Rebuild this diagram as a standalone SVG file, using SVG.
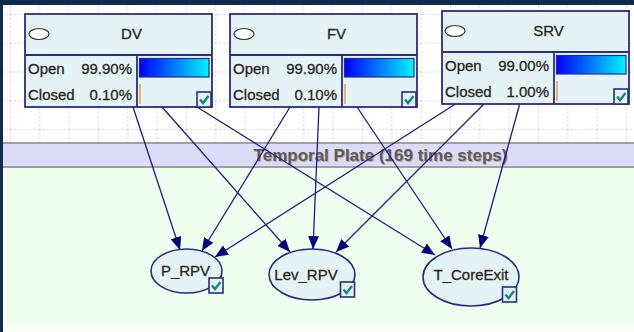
<svg xmlns="http://www.w3.org/2000/svg" width="634" height="332" viewBox="0 0 634 332">
  <defs>
    <linearGradient id="prob" x1="0" y1="0" x2="1" y2="0">
      <stop offset="0" stop-color="#0000ff"/>
      <stop offset="1" stop-color="#00f4ff"/>
    </linearGradient>
    <pattern id="grid" x="10" y="14" width="29.333" height="28.75" patternUnits="userSpaceOnUse">
      <path d="M0,0.5 H29.333 M0.5,0 V28.75" stroke="#d8d8d8" stroke-width="1" stroke-dasharray="2,2" fill="none"/>
    </pattern>
    <marker id="arrow" viewBox="0 0 13 11" markerWidth="13" markerHeight="11" refX="13" refY="5.5" orient="auto" markerUnits="userSpaceOnUse">
      <path d="M0,0 L13,5.5 L0,11 z" fill="#000080"/>
    </marker>
    <g id="check">
      <rect x="0" y="0" width="14" height="15" fill="#e4f4f6" stroke="#2a2a8a" stroke-width="1.6"/>
      <path d="M3,7.5 L6,11 L11.5,4" fill="none" stroke="#13877a" stroke-width="2.4"/>
    </g>
  </defs>
  <style>
    .txt { font-family: "Liberation Sans", Arial, sans-serif; font-size: 15px; fill: #222; stroke: #3a2a1a; stroke-width: 0.3; }
    .mid { text-anchor: middle; }
    .end { text-anchor: end; }
    .box { fill: #e4f4f6; stroke: #2a2a8a; stroke-width: 1.8; }
    .div { stroke: #2a2a8a; stroke-width: 1.8; }
    .icon { fill: #ffffff; stroke: #333; stroke-width: 1.2; }
    .bar { fill: url(#prob); stroke: #2a2a8a; stroke-width: 1.2; }
    .tick { stroke: #f0a040; stroke-width: 1.6; }
    .node { fill: #e4f4f6; stroke: #2a2a8a; stroke-width: 1.6; }
    .edge { fill: none; stroke: #1c1c8a; stroke-width: 1.3; marker-end: url(#arrow); }
    .plate { font-family: "Liberation Sans", Arial, sans-serif; font-size: 17px; font-weight: bold; text-anchor: middle; }
  </style>

  <!-- canvas: frame, grid area, temporal plate -->
  <rect x="0" y="0" width="634" height="332" fill="#f0fef0"/>
  <rect x="0" y="5" width="634" height="138" fill="#ffffff"/>
  <rect x="0" y="5" width="634" height="137" fill="url(#grid)"/>
  <rect x="0" y="143" width="634" height="24" fill="#dcdcfa"/>
  <line x1="0" y1="143" x2="634" y2="143" stroke="#a0a0a0" stroke-width="2"/>
  <line x1="0" y1="167" x2="634" y2="167" stroke="#a0a0a0" stroke-width="2"/>
  <rect x="0" y="326" width="634" height="6" fill="#fafdfa"/>
  <rect x="0" y="0" width="634" height="5" fill="#0f2b50"/>
  <rect x="0" y="0" width="3" height="332" fill="#0f2b50"/>
  <text class="plate" x="381.5" y="162" fill="#b89070" opacity="0.7">Temporal Plate (169 time steps)</text>
  <text class="plate" x="380.5" y="161" fill="#5c5c5c">Temporal Plate (169 time steps)</text>

  <!-- arcs -->
  <g id="connectors">
    <line class="edge" x1="133" y1="107" x2="180" y2="250"/>
    <line class="edge" x1="162" y1="107" x2="290" y2="252"/>
    <line class="edge" x1="197" y1="107" x2="435" y2="255"/>
    <line class="edge" x1="290" y1="107" x2="202" y2="251"/>
    <line class="edge" x1="319" y1="107" x2="313" y2="249"/>
    <line class="edge" x1="357" y1="107" x2="452" y2="249"/>
    <line class="edge" x1="457" y1="103" x2="215" y2="257"/>
    <line class="edge" x1="485" y1="103" x2="336" y2="252"/>
    <line class="edge" x1="520" y1="103" x2="480" y2="248"/>
  </g>

  <!-- parent nodes with belief bars -->
  <g id="DV">
    <rect class="box" x="25" y="14" width="187" height="93"/>
    <line class="div" x1="25" y1="55" x2="212" y2="55"/>
    <line class="div" x1="137" y1="55" x2="137" y2="107"/>
    <ellipse class="icon" cx="39" cy="34" rx="10" ry="5.5"/>
    <text class="txt mid" x="131.5" y="39">DV</text>
    <text class="txt" x="28" y="74">Open</text>
    <text class="txt end" x="132" y="74">99.90%</text>
    <text class="txt" x="28" y="100">Closed</text>
    <text class="txt end" x="132" y="100">0.10%</text>
    <rect class="bar" x="139.5" y="58.5" width="69.5" height="18.5"/>
    <line class="tick" x1="140" y1="84" x2="140" y2="104"/>
    <use href="#check" x="197" y="92"/>
  </g>

  <g id="FV" transform="translate(205,0)">
    <rect class="box" x="25" y="14" width="187" height="93"/>
    <line class="div" x1="25" y1="55" x2="212" y2="55"/>
    <line class="div" x1="137" y1="55" x2="137" y2="107"/>
    <ellipse class="icon" cx="39" cy="34" rx="10" ry="5.5"/>
    <text class="txt mid" x="131.5" y="39">FV</text>
    <text class="txt" x="28" y="74">Open</text>
    <text class="txt end" x="132" y="74">99.90%</text>
    <text class="txt" x="28" y="100">Closed</text>
    <text class="txt end" x="132" y="100">0.10%</text>
    <rect class="bar" x="139.5" y="58.5" width="69.5" height="18.5"/>
    <line class="tick" x1="140" y1="84" x2="140" y2="104"/>
    <use href="#check" x="197" y="92"/>
  </g>

  <g id="SRV" transform="translate(417,-3)">
    <rect class="box" x="25" y="14" width="187" height="93"/>
    <line class="div" x1="25" y1="55" x2="212" y2="55"/>
    <line class="div" x1="137" y1="55" x2="137" y2="107"/>
    <ellipse class="icon" cx="38" cy="34" rx="10" ry="5.5"/>
    <text class="txt mid" x="131.5" y="39">SRV</text>
    <text class="txt" x="28" y="74">Open</text>
    <text class="txt end" x="132" y="74">99.00%</text>
    <text class="txt" x="28" y="100">Closed</text>
    <text class="txt end" x="132" y="100">1.00%</text>
    <rect class="bar" x="139.5" y="58.5" width="69.5" height="18.5"/>
    <line class="tick" x1="140" y1="84" x2="140" y2="104"/>
    <use href="#check" x="197" y="92"/>
  </g>

  <!-- child nodes inside the temporal plate -->
  <g id="P_RPV">
    <ellipse class="node" cx="186.5" cy="271" rx="35.5" ry="22"/>
    <text class="txt mid" x="185.5" y="275.5">P_RPV</text>
    <use href="#check" x="209" y="278"/>
  </g>

  <g id="Lev_RPV">
    <ellipse class="node" cx="312" cy="274.5" rx="43" ry="25.5"/>
    <text class="txt mid" x="306" y="279.5">Lev_RPV</text>
    <use href="#check" x="340.5" y="282"/>
  </g>

  <g id="T_CoreExit">
    <ellipse class="node" cx="471" cy="277" rx="48" ry="29"/>
    <text class="txt mid" x="471" y="280">T_CoreExit</text>
    <use href="#check" x="502.5" y="287"/>
  </g>
</svg>
